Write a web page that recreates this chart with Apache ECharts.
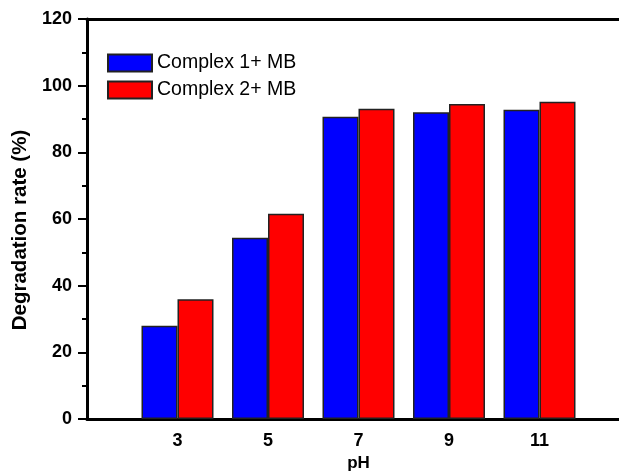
<!DOCTYPE html>
<html>
<head>
<meta charset="utf-8">
<script src="https://cdn.jsdelivr.net/npm/echarts@6/dist/echarts.min.js"></script>
<style>
  html, body { margin: 0; padding: 0; background: #fff; }
  #chart { width: 619px; height: 476px; }
</style>
</head>
<body>
<div id="chart"></div>
<script>
// pH values on the x axis and degradation rates (%)
const phValues = [3, 5, 7, 9, 11];
const complex1 = [28.0, 54.4, 90.7, 92.0, 92.8];
const complex2 = [35.9, 61.6, 93.1, 94.5, 95.2];
const yTicks = [0, 20, 40, 60, 80, 100, 120];

const font = 'Liberation Sans, Arial, sans-serif';
const myChart = echarts.init(document.getElementById('chart'));

const toPairs = vals => phValues.map((p, i) => [p, vals[i]]);

myChart.setOption({
  animation: false,
  backgroundColor: '#fff',
  grid: {
    left: 87, top: 19, bottom: 57, right: -11,
    outerBoundsMode: 'none', containLabel: false
  },
  legend: {
    left: 102, top: 48, orient: 'vertical',
    icon: 'rect',
    itemWidth: 44, itemHeight: 17, itemGap: 7,
    textStyle: { fontFamily: font, fontSize: 19.5, color: '#000' },
    data: ['Complex 1+ MB', 'Complex 2+ MB']
  },
  xAxis: [
    {
      type: 'value', min: 1, max: 13, interval: 2,
      name: 'pH', nameLocation: 'middle', nameGap: 36,
      nameTextStyle: { fontFamily: font, fontSize: 17, fontWeight: 'bold', color: '#000' },
      axisLine: { show: true, lineStyle: { color: '#000', width: 3 } },
      axisTick: { show: false },
      splitLine: { show: false },
      axisLabel: {
        margin: 13, fontFamily: font, fontSize: 18, fontWeight: 'bold', color: '#000',
        formatter: v => phValues.includes(v) ? String(v) : ''
      }
    },
    {
      // top frame line only
      type: 'value', position: 'top', min: 1, max: 13, interval: 2,
      axisLine: { show: true, lineStyle: { color: '#000', width: 3 } },
      axisTick: { show: false }, axisLabel: { show: false }, splitLine: { show: false }
    }
  ],
  yAxis: {
    type: 'value', min: yTicks[0], max: yTicks[yTicks.length - 1], interval: 20,
    name: 'Degradation rate (%)', nameLocation: 'middle', nameGap: 55,
    nameTextStyle: { fontFamily: font, fontSize: 20.5, fontWeight: 'bold', color: '#000', padding: [0, 22, 0, 0] },
    axisLine: { show: true, lineStyle: { color: '#000', width: 3 } },
    axisTick: { show: true, inside: false, length: 9, lineStyle: { color: '#000', width: 2 } },
    minorTick: { show: true, splitNumber: 2, length: 5, lineStyle: { color: '#000', width: 2 } },
    splitLine: { show: false },
    axisLabel: { margin: 15, fontFamily: font, fontSize: 18, fontWeight: 'bold', color: '#000' }
  },
  series: [
    {
      name: 'Complex 1+ MB', type: 'bar', data: toPairs(complex1),
      barWidth: 36, barGap: '0%',
      itemStyle: { color: '#0000ff', borderColor: '#222', borderWidth: 1.5 }
    },
    {
      name: 'Complex 2+ MB', type: 'bar', data: toPairs(complex2),
      barWidth: 36, barGap: '0%',
      itemStyle: { color: '#ff0000', borderColor: '#222', borderWidth: 1.5 }
    }
  ]
});
</script>
</body>
</html>
